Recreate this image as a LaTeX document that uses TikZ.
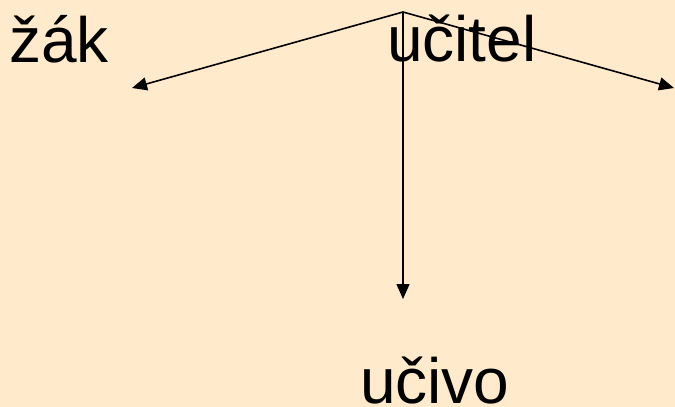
\documentclass[tikz,border=0pt]{standalone}
\usepackage{fontspec}
\setmainfont{Liberation Sans}
\usetikzlibrary{arrows.meta}
\definecolor{bg}{HTML}{FFEBCC}
\tikzset{
  lbl/.style={anchor=base west, inner sep=0pt, font=\fontsize{64}{64}\selectfont},
  conn/.style={line width=1.6pt, -{Triangle[length=15pt,width=13pt]}}
}
\begin{document}
\begin{tikzpicture}[x=1pt,y=-1pt]
\fill[bg] (0,0) rectangle (675,407);
\useasboundingbox (0,0) rectangle (675,407);
\node[lbl] (zak) at (9,62) {žák};
\node[lbl] (ucitel) at (387,61) {učitel};
\node[lbl] (ucivo) at (360,403) {učivo};
\coordinate (o) at (403,12);
\coordinate (tl) at (132,88);
\coordinate (tr) at (674,88);
\coordinate (tb) at (403,299);
\draw[conn] (o) -- (tl);
\draw[conn] (o) -- (tr);
\draw[conn] (o) -- (tb);
\end{tikzpicture}
\end{document}
